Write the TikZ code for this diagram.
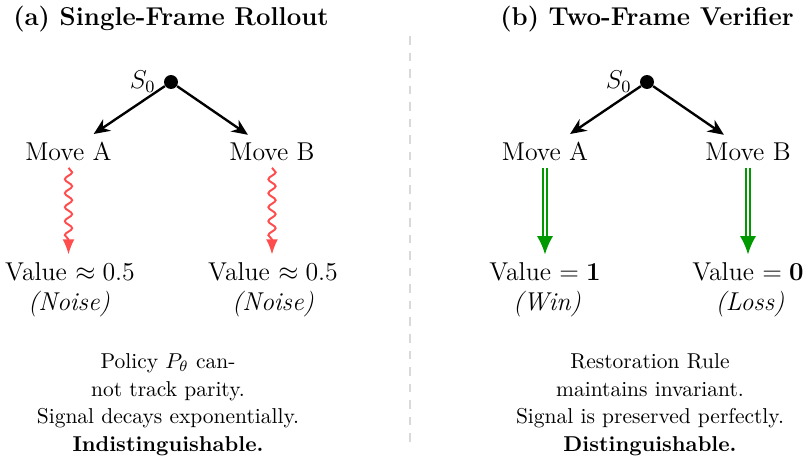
\documentclass[tikz,border=0pt]{standalone}
\usetikzlibrary{arrows.meta,decorations.pathmorphing}
\begin{document}
\begin{tikzpicture}[x=0.4651pt,y=-0.4651pt,
  title/.style={font=\large\bfseries, anchor=base},
  move/.style={font=\large, anchor=base},
  val/.style={font=\large, anchor=base},
  note/.style={font=\large\itshape, anchor=base},
  desc/.style={align=center, anchor=north, font=\normalsize},
  root/.style={circle, fill=black, inner sep=0pt, minimum size=6.5pt},
  tree/.style={line width=1.1pt, -{Stealth[length=7.5pt,width=6.5pt]}},
  noisy/.style={draw=red!70, line width=0.9pt, decorate,
    decoration={snake, amplitude=1.7pt, segment length=6.5pt, post length=6pt},
    -{Latex[length=7pt,width=5.5pt]}},
  good/.style={draw=green!60!black, double, double distance=1.1pt, line width=1pt,
    -{Latex[length=8.5pt,width=7.5pt]}},
  divider/.style={gray!30, line width=1pt, dash pattern=on 4pt off 3.7pt}
]
\useasboundingbox (0,0) rectangle (806,457);

% titles
\node[title] (ta) at (171,25) {(a) Single-Frame Rollout};
\node[title] (tb) at (647,25) {(b) Two-Frame Verifier};

% divider
\coordinate (dtop) at (410,36);
\coordinate (dbot) at (410,445);
\draw[divider] (dtop) -- (dbot);

% left tree
\node[root, label={[font=\large, inner sep=3.5pt]left:$S_0$}] (sa) at (171,82) {};
\node[move] (ma) at (68.5,160) {Move A};
\node[move] (mb) at (272,160) {Move B};
\node[val] (va) at (70,280) {Value $\approx 0.5$};
\node[note] (na) at (69,310) {(Noise)};
\node[val] (vb) at (273,280) {Value $\approx 0.5$};
\node[note] (nb) at (273,310) {(Noise)};
\draw[tree] (sa) -- (ma);
\draw[tree] (sa) -- (mb);
\draw[noisy] (ma.south) -- (ma.south |- va.north);
\draw[noisy] (mb.south) -- (mb.south |- vb.north);
\node[desc] (da) at (168,346) {Policy $P_\theta$ can-\\[0.8pt]not track parity.\\[0.8pt]Signal decays exponentially.\\[0.8pt]\textbf{Indistinguishable.}};

% right tree
\node[root, label={[font=\large, inner sep=3.5pt]left:$S_0$}] (sb) at (647,82) {};
\node[move] (mc) at (545,160) {Move A};
\node[move] (md) at (748,160) {Move B};
\node[val] (vc) at (545,280) {Value $= \mathbf{1}$};
\node[val] (vd) at (748,280) {Value $= \mathbf{0}$};
\node[note] (nc) at (547,310) {(Win)};
\node[note] (nd) at (750,310) {(Loss)};
\draw[tree] (sb) -- (mc);
\draw[tree] (sb) -- (md);
\draw[good] (mc.south) -- (mc.south |- vc.north);
\draw[good] (md.south) -- (md.south |- vd.north);
\node[desc] (db) at (650,346) {Restoration Rule\\[0.8pt]maintains invariant.\\[0.8pt]Signal is preserved perfectly.\\[0.8pt]\textbf{Distinguishable.}};
\end{tikzpicture}
\end{document}
